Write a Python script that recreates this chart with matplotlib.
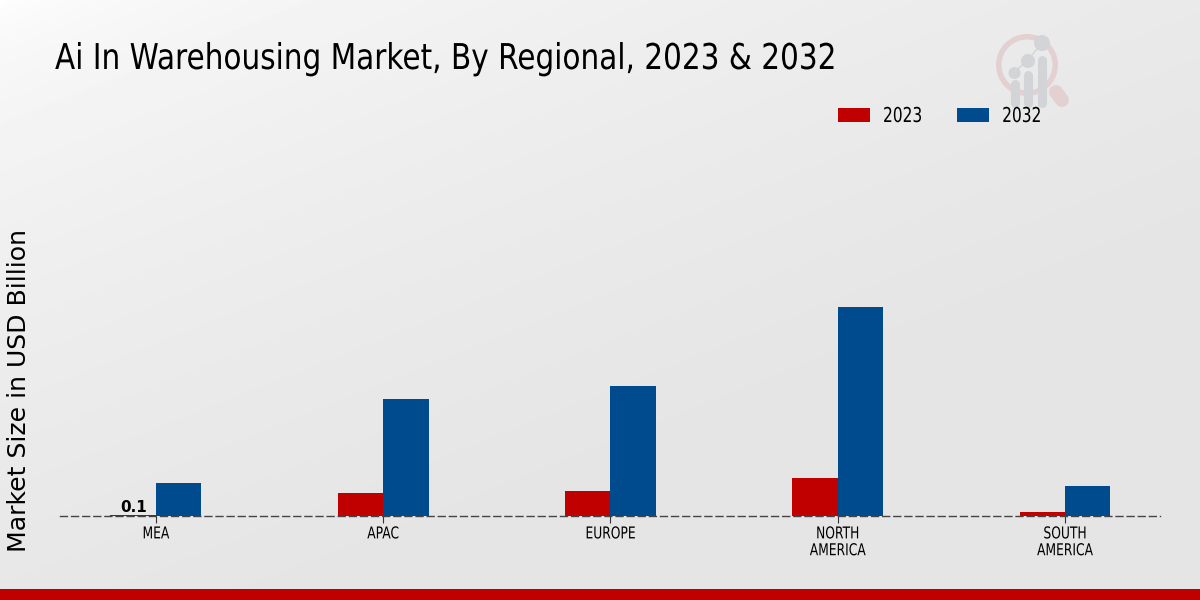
"""Ai in warehousing market by region, grouped bars on a grey gradient."""

import numpy as np
import matplotlib
matplotlib.use("Agg")
import matplotlib.pyplot as plt
from matplotlib.patches import Circle, Rectangle, Wedge
from matplotlib.patheffects import AbstractPathEffect
from matplotlib.transforms import Affine2D

W, H = 1200, 600

regions = ["MEA", "APAC", "EUROPE", "NORTH\nAMERICA", "SOUTH\nAMERICA"]
values_2023 = [0.1, 1.55, 1.7, 2.55, 0.28]
values_2032 = [2.2, 7.8, 8.65, 13.95, 2.0]

RED = "#c00000"
BLUE = "#004b8d"
SQUEEZE = 0.75


class Squeeze(AbstractPathEffect):
    """Narrow drawn text horizontally around a pixel column."""

    def __init__(self, sx, x0):
        super().__init__()
        self.sx, self.x0 = sx, x0

    def draw_path(self, renderer, gc, tpath, affine, rgbFace=None):
        squeeze = Affine2D().translate(-self.x0, 0).scale(self.sx, 1).translate(self.x0, 0)
        renderer.draw_path(gc, tpath, affine + squeeze, rgbFace)


fig = plt.figure(figsize=(12, 6), dpi=100)

# background gradient, white corner top left
bg = fig.add_axes([0, 0, 1, 1], zorder=0)
yy, xx = np.mgrid[0:H:300j, 0:W:600j]
t = np.clip((xx + 2.5 * yy) / 1200, 0, 1.44) ** 0.5
bg.imshow(1 - 0.085 * t, cmap="gray", vmin=0, vmax=1, aspect="auto",
          extent=(0, W, H, 0))
bg.set_xlim(0, W)
bg.set_ylim(H, 0)
bg.axis("off")

# footer band
bg.add_patch(Rectangle((0, 589), W, 11, color=RED, lw=0))

# faint logo
LOGO_RED = "#e3d0d1"
LOGO_GREY = "#d2d4d7"
bg.add_patch(Wedge((1027, 65), 31, 0, 360, width=5.5, color=LOGO_RED, lw=0))
bg.plot([1056, 1062], [92, 100], color=LOGO_RED, lw=10,
        solid_capstyle="round")
bg.plot([1013, 1027, 1042], [73, 61, 43], color=LOGO_GREY, lw=1)
for cx, cy, r, top in [(1014.5, 73, 6, 84), (1028, 61, 7, 75),
                       (1042, 43, 8, 60)]:
    bg.add_patch(Circle((cx, cy), r, color=LOGO_GREY, lw=0))
    bg.plot([cx, cx], [top, 103], color=LOGO_GREY, lw=6.5,
            solid_capstyle="round")

ax = fig.add_axes([60 / W, 1 - 516 / H, 1100 / W, 416 / H], zorder=1)
ax.patch.set_alpha(0)

x = np.arange(len(regions))
bar_w = 0.2
ax.bar(x - bar_w / 2, values_2023, bar_w, color=RED, label="2023")
ax.bar(x + bar_w / 2, values_2032, bar_w, color=BLUE, label="2032")

ax.set_xlim(-0.422, 4.418)
ax.set_ylim(0, 416 / 15)
ax.set_xticks(x)
ax.set_xticklabels(regions, fontsize=11.8, linespacing=1.15)
ax.set_yticks([])
ax.tick_params(axis="x", length=5, width=0.8, pad=2.5, color="#333333")
for side in ["top", "right", "left"]:
    ax.spines[side].set_visible(False)
ax.spines["bottom"].set_linestyle((0, (5, 3)))
ax.spines["bottom"].set_color("#444444")
ax.spines["bottom"].set_linewidth(1)
ax.spines["bottom"].set_zorder(5)

ax.text(x[0] - bar_w / 2, values_2023[0], "0.1", ha="center",
        va="bottom", fontsize=11, fontweight="bold")

title = fig.text(55 / W, 1 - 69 / H,
                 "Ai In Warehousing Market, By Regional, 2023 & 2032",
                 fontsize=25.6, va="baseline", ha="left", color="black")
fig.text(19 / W, 1 - 391 / H, "Market Size in USD Billion", fontsize=18.1,
         rotation=90, va="center", ha="center", color="black")

leg = ax.legend(loc="center left", bbox_to_anchor=(819.5 / W, 1 - 116 / H),
                bbox_transform=fig.transFigure, ncol=2, frameon=False,
                fontsize=14.8, handlelength=1.56, handleheight=0.68,
                columnspacing=1.07, handletextpad=0.63)

# narrow the text once its layout is known
fig.canvas.draw()
title_box = title.get_window_extent()
title.set_path_effects([Squeeze(781 / title_box.width, title_box.x0)])
for label in ax.get_xticklabels():
    box = label.get_window_extent()
    label.set_path_effects([Squeeze(SQUEEZE, (box.x0 + box.x1) / 2)])
for label in leg.get_texts():
    label.set_path_effects([Squeeze(SQUEEZE, label.get_window_extent().x0)])

fig.savefig("out.png", dpi=100)
